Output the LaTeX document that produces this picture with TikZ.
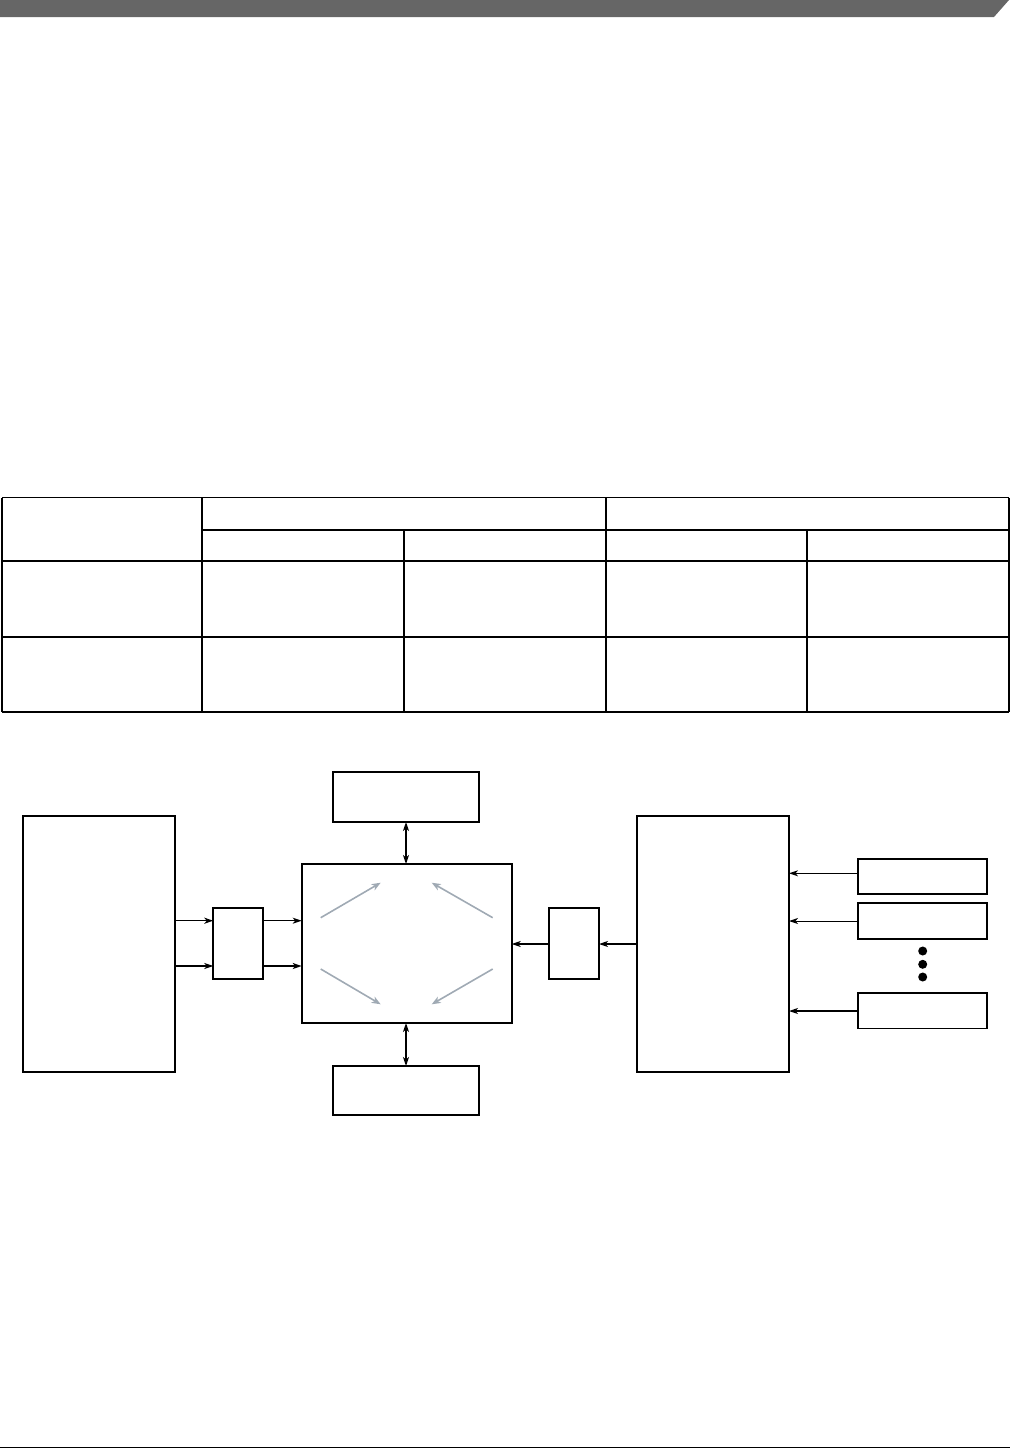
\documentclass[tikz,border=0pt]{standalone}
\usetikzlibrary{arrows.meta}
\definecolor{barcol}{RGB}{102,102,102}
\definecolor{flowcol}{RGB}{160,170,180}
\begin{document}
\begin{tikzpicture}[x=1pt,y=-1pt,
  thickln/.style={line width=1.8pt},
  thinln/.style={line width=1.1pt},
  blk/.style={draw, line width=1.7pt, inner sep=0pt, outer sep=0pt},
  arr/.style={line width=1.5pt, -{Stealth[length=9pt,width=6pt,inset=2.5pt]}},
  arrthin/.style={line width=1pt, -{Stealth[length=9pt,width=6pt,inset=2.5pt]}},
  dblarr/.style={line width=1.5pt, {Stealth[length=9pt,width=6pt,inset=2.5pt]}-{Stealth[length=9pt,width=6pt,inset=2.5pt]}},
  flow/.style={draw=flowcol, line width=1.6pt, -{Stealth[length=9pt,width=7pt,inset=2.5pt]}},
  dotmark/.style={fill=black, circle, inner sep=0pt, minimum size=9pt}
]
\useasboundingbox (0,0) rectangle (1011,1449);

% header bar and footer rule
\fill[barcol] (0,0) -- (1009,0) -- (994,17) -- (0,17) -- cycle;
\draw[line width=1.3pt] (0,1447.5) -- (1010,1447.5);

% table
\draw[thickln] (2,497.5) -- (1009,497.5);
\draw[thickln] (202,530) -- (1009,530);
\draw[thickln] (2,561.3) -- (1009,561.3);
\draw[thinln] (2,637) -- (1009,637);
\draw[thinln] (2,712) -- (1009,712);
\foreach \x in {2,202,606,1009} {
  \draw[thickln] (\x,497.5) -- (\x,561.3);
  \draw[thinln] (\x,561.3) -- (\x,712);
}
\foreach \x in {404,807} {
  \draw[thickln] (\x,530) -- (\x,561.3);
  \draw[thinln] (\x,561.3) -- (\x,712);
}

% blocks
\node[blk, minimum width=152pt, minimum height=256pt] (lbig) at (99,944) {};
\node[blk, minimum width=50pt, minimum height=71pt] (ls) at (238.3,943.5) {};
\node[blk, minimum width=210pt, minimum height=159pt] (ctr) at (406.7,943.5) {};
\node[blk, minimum width=146pt, minimum height=50pt] (topb) at (406,797) {};
\node[blk, minimum width=146pt, minimum height=49pt] (botb) at (406,1090.5) {};
\node[blk, minimum width=50pt, minimum height=71.6pt] (rs) at (574,943.5) {};
\node[blk, minimum width=152pt, minimum height=256pt] (rbig) at (713,944) {};
\node[blk, minimum width=129pt, minimum height=35pt] (r1) at (922.8,876.5) {};
\node[blk, minimum width=129pt, minimum height=35.7pt] (r2) at (922.8,921) {};
\node[blk, minimum width=129pt, minimum height=35.3pt] (r3) at (922.8,1010.7) {};

% dots
\node[dotmark] (d1) at (922.7,951) {};
\node[dotmark] (d2) at (922.7,964.3) {};
\node[dotmark] (d3) at (922.7,977) {};

% level coordinates
\coordinate (ya) at (0,920.7);
\coordinate (yb) at (0,966);
\coordinate (yc) at (0,944);
\coordinate (y1) at (0,873.3);
\coordinate (y2) at (0,921);
\coordinate (y3) at (0,1011);

% connectors
\draw[arr] (lbig.east |- ya) -- (ls.west |- ya);
\draw[arr] (lbig.east |- yb) -- (ls.west |- yb);
\draw[arr] (ls.east |- ya) -- (ctr.west |- ya);
\draw[arr] (ls.east |- yb) -- (ctr.west |- yb);
\draw[arr] (rs.west |- yc) -- (ctr.east |- yc);
\draw[arr] (rbig.west |- yc) -- (rs.east |- yc);
\draw[dblarr] (topb.south) -- (topb.south |- ctr.north);
\draw[dblarr] (botb.north |- ctr.south) -- (botb.north);
\draw[arrthin] (r1.west |- y1) -- (rbig.east |- y1);
\draw[arrthin] (r2.west |- y2) -- (rbig.east |- y2);
\draw[arr] (r3.west |- y3) -- (rbig.east |- y3);

% grey flow arrows inside the central block
\coordinate (g1s) at (320.7,917.7); \coordinate (g1e) at (380.7,882.7);
\coordinate (g2s) at (492.7,917.7); \coordinate (g2e) at (431.7,882.7);
\coordinate (g3s) at (320.7,969);   \coordinate (g3e) at (380.7,1004.3);
\coordinate (g4s) at (492.7,969);   \coordinate (g4e) at (431.7,1004.3);
\draw[flow] (g1s) -- (g1e);
\draw[flow] (g2s) -- (g2e);
\draw[flow] (g3s) -- (g3e);
\draw[flow] (g4s) -- (g4e);
\end{tikzpicture}
\end{document}
